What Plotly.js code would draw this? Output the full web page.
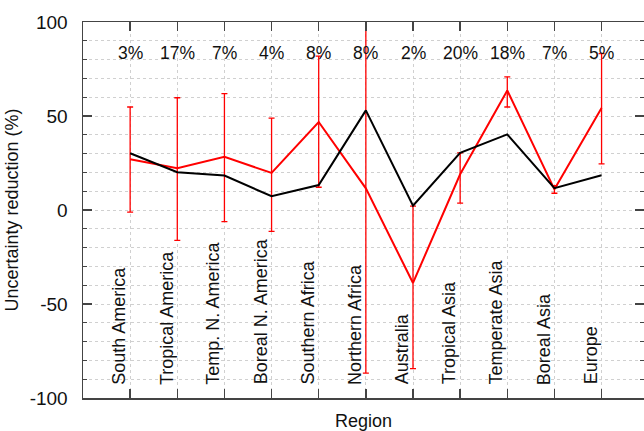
<!DOCTYPE html>
<html><head><meta charset="utf-8">
<script src="https://cdn.plot.ly/plotly-3.0.1.min.js"></script>
<style>body{margin:0;padding:0;background:#fff}#chart{width:644px;height:431px}</style>
</head><body><div id="chart"></div>
<script>
const regions = ["South America","Tropical America","Temp. N. America","Boreal N. America","Southern Africa","Northern Africa","Australia","Tropical Asia","Temperate Asia","Boreal Asia","Europe"];
const percentLabels = ["3%","17%","7%","4%","8%","8%","2%","20%","18%","7%","5%"];
const blackValues = [30.2, 20.1, 18.3, 7.3, 13.3, 53.0, 2.3, 30.4, 40.2, 11.6, 18.5];
const redValues = [27.0, 22.2, 28.3, 19.7, 46.8, 11.5, -38.8, 19.0, 63.6, 11.0, 54.2];
const redUpper = [54.8, 59.7, 61.9, 48.9, 81.8, 115, 2.1, 30.4, 70.8, 13.0, 83.2];
const redLower = [-1.1, -16.2, -6.2, -11.4, 12.1, -86.8, -84.4, 3.7, 54.8, 8.9, 24.5];
const yTickVals = [-100, -50, 0, 50, 100];
const yTickText = ["-100", "-50", "0", "50", "100"];

const xs = regions.map((_, i) => i + 1);
const errPlus = redValues.map((v, i) => redUpper[i] - v);
const errMinus = redValues.map((v, i) => v - redLower[i]);

const font = "Liberation Sans, Arial, Helvetica, sans-serif";

const traces = [
  {x: xs, y: redValues, type: "scatter", mode: "lines",
   line: {color: "#ff0000", width: 2},
   error_y: {type: "data", symmetric: false, array: errPlus, arrayminus: errMinus,
             color: "#ff0000", thickness: 1.3, width: 3},
   hoverinfo: "skip", showlegend: false},
  {x: xs, y: blackValues, type: "scatter", mode: "lines",
   line: {color: "#000000", width: 2},
   hoverinfo: "skip", showlegend: false}
];

const annotations = [];
regions.forEach((r, i) => {
  annotations.push({x: i + 1, y: -94, xref: "x", yref: "y", text: r, textangle: -90,
    showarrow: false, xanchor: "center", yanchor: "bottom", xshift: -11,
    font: {family: font, size: 18, color: "#111"}});
  annotations.push({x: i + 1, y: 83.7, xref: "x", yref: "y", text: percentLabels[i],
    showarrow: false, xanchor: "center", yanchor: "middle",
    font: {family: font, size: 17.5, color: "#111"}});
});

const layout = {
  width: 644, height: 431,
  margin: {l: 83, r: 0, t: 22, b: 33},
  paper_bgcolor: "#fff", plot_bgcolor: "#fff",
  font: {family: font, size: 16, color: "#111"},
  xaxis: {range: [0, 11.9], tickvals: xs, ticktext: xs.map(() => ""),
    ticks: "inside", ticklen: 9, tickwidth: 1.3, tickcolor: "#444",
    showline: true, linecolor: "#444", linewidth: 1.5, mirror: "ticks",
    showgrid: true, gridcolor: "#d0d0d0", griddash: "dot", gridwidth: 1,
    zeroline: false, fixedrange: true,
    title: {text: "Region", font: {family: font, size: 18, color: "#111"}, standoff: 12}},
  yaxis: {range: [-100, 100], tickvals: yTickVals, ticktext: yTickText,
    ticks: "inside", ticklen: 9, tickwidth: 1.3, tickcolor: "#444",
    tickfont: {family: font, size: 19, color: "#111"}, ticklabelstandoff: 10,
    showline: true, linecolor: "#444", linewidth: 1.5, mirror: "ticks",
    showgrid: true, gridcolor: "#d0d0d0", griddash: "dot", gridwidth: 1,
    minor: {dtick: 10, tick0: 0, showgrid: true, gridcolor: "#d0d0d0", griddash: "dot",
            gridwidth: 1, ticks: "inside", ticklen: 4, tickcolor: "#444"},
    zeroline: false, fixedrange: true,
    title: {text: "Uncertainty reduction (%)", font: {family: font, size: 18, color: "#111"}, standoff: 6}},
  annotations: annotations
};

Plotly.newPlot("chart", traces, layout, {staticPlot: true, displayModeBar: false});
</script></body></html>
